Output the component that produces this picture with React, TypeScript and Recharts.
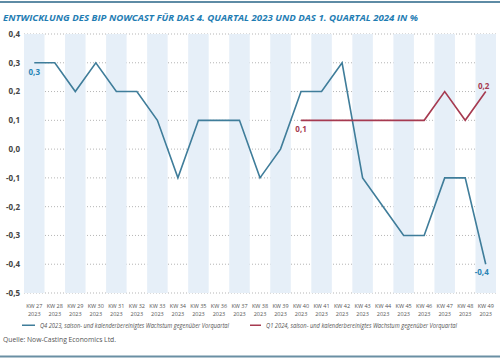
import React from 'react';
import {
  LineChart, Line, XAxis, YAxis, CartesianGrid, ReferenceArea
} from 'recharts';

const categories = [
  'KW 27', 'KW 28', 'KW 29', 'KW 30', 'KW 31', 'KW 32', 'KW 33', 'KW 34', 'KW 35', 'KW 36', 'KW 37', 'KW 38',
  'KW 39', 'KW 40', 'KW 41', 'KW 42', 'KW 43', 'KW 44', 'KW 45', 'KW 46', 'KW 47', 'KW 48', 'KW 49',
];
const years = [
  '2023', '2023', '2023', '2023', '2023', '2023', '2023', '2023', '2023', '2023', '2023', '2023',
  '2023', '2023', '2023', '2023', '2023', '2023', '2023', '2023', '2023', '2023', '2023',
];
const q4Values = [
  0.3, 0.3, 0.2, 0.3, 0.2, 0.2, 0.1, -0.1, 0.1, 0.1, 0.1, -0.1,
  0.0, 0.2, 0.2, 0.3, -0.1, -0.2, -0.3, -0.3, -0.1, -0.1, -0.4,
];
const q1Values = [
  null, null, null, null, null, null, null, null, null, null, null, null,
  null, 0.1, 0.1, 0.1, 0.1, 0.1, 0.1, 0.1, 0.2, 0.1, 0.2,
];
const shadedWeeks = [
  'KW 27', 'KW 29', 'KW 31', 'KW 33', 'KW 35', 'KW 37', 'KW 39', 'KW 41', 'KW 43', 'KW 45', 'KW 47', 'KW 49',
];
const yTicks = [0.4, 0.3, 0.2, 0.1, 0, -0.1, -0.2, -0.3, -0.4, -0.5];

// which points get a value label, and where
const q4Labels = [{ index: 0, dx: 0, dy: 12 }, { index: 22, dx: -4, dy: 11 }];
const q1Labels = [{ index: 13, dx: 0, dy: 12 }, { index: 22, dx: -2, dy: -3 }];

const data = categories.map((kw, i) => ({ kw, year: years[i], q4: q4Values[i], q1: q1Values[i] }));

const BLUE = '#3f7d9a';
const BLUE_TEXT = '#2a85b5';
const RED = '#a63a50';
const FONT = '"Open Sans", "Noto Sans", sans-serif';

const fmt = (v: number) => v.toFixed(1).replace('.', ',');

const makeLabel = (spots: { index: number; dx: number; dy: number }[], color: string) =>
  (props: any) => {
    const spot = spots.find((s) => s.index === props.index);
    if (!spot || props.value == null) return null;
    return (
      <text key={props.index} x={props.x + spot.dx} y={props.y + spot.dy} textAnchor="middle"
        fontSize={8} fontWeight="bold" fill={color} fontFamily={FONT}>
        {fmt(props.value)}
      </text>
    );
  };

const WeekTick = (props: any) => {
  const { x, y, payload, index } = props;
  return (
    <g>
      <text x={x} y={y + 12.5} textAnchor="middle" fontSize={5.5} fill="#555" fontFamily={FONT}>{payload.value}</text>
      <text x={x} y={y + 21} textAnchor="middle" fontSize={5.5} fill="#555" fontFamily={FONT}>{years[index]}</text>
    </g>
  );
};

export default function App() {
  return (
    <div style={{ position: 'absolute', left: 0, top: 0, width: 500, height: 360, background: '#fff', overflow: 'hidden' }}>
      <svg width={500} height={360} style={{ position: 'absolute', left: 0, top: 0 }}>
        <rect x={0} y={1} width={500} height={2} fill="#5e8ba5" />
        <text x={3} y={20.5} fontSize={9.5} fontWeight="bold" fontStyle="italic" fill="#1f7db3"
          fontFamily={FONT} textLength={415} lengthAdjust="spacingAndGlyphs">
          ENTWICKLUNG DES BIP NOWCAST FÜR DAS 4. QUARTAL 2023 UND DAS 1. QUARTAL 2024 IN %
        </text>
        <rect x={22} y={324.5} width={13} height={1.5} fill={BLUE} />
        <text x={40} y={327.5} fontSize={6.2} fontStyle="italic" fill="#555" fontFamily={FONT}
          textLength={189} lengthAdjust="spacingAndGlyphs">
          Q4 2023, saison- und kalenderbereinigtes Wachstum gegenüber Vorquartal
        </text>
        <rect x={250} y={324.5} width={11} height={1.5} fill={RED} />
        <text x={266} y={327.5} fontSize={6.2} fontStyle="italic" fill="#555" fontFamily={FONT}
          textLength={191} lengthAdjust="spacingAndGlyphs">
          Q1 2024, saison- und kalenderbereinigtes Wachstum gegenüber Vorquartal
        </text>
        <text x={3} y={341.5} fontSize={6.8} fill="#555" fontFamily={FONT}
          textLength={113} lengthAdjust="spacingAndGlyphs">
          Quelle: Now-Casting Economics Ltd.
        </text>
        <rect x={0} y={355.5} width={500} height={2} fill="#6a8fa3" />
      </svg>
      <div style={{ position: 'absolute', left: 0, top: 0 }}>
        <LineChart width={500} height={320} data={data} margin={{ top: 34, right: 4, left: 0, bottom: 3 }}>
          {shadedWeeks.map((w) => (
            <ReferenceArea key={w} x1={w} x2={w} y1={-0.5} y2={0.4} fill="#e6eff8" fillOpacity={1} stroke="none" ifOverflow="visible" />
          ))}
          <CartesianGrid vertical={false} stroke="#b5b5b5" strokeDasharray="1 2" />
          <XAxis dataKey="kw" scale="band" interval={0} axisLine={false} tickLine={false} tickSize={0}
            height={24} tick={<WeekTick />} />
          <YAxis domain={[-0.5, 0.4]} ticks={yTicks} width={24} axisLine={false} tickLine={false}
            tickSize={0} tickMargin={4} tickFormatter={fmt} interval={0}
            tick={{ fontSize: 8, fontWeight: 'bold', fill: '#444', fontFamily: FONT }} />
          <Line type="linear" dataKey="q4" stroke={BLUE} strokeWidth={1.6} dot={false}
            isAnimationActive={false} label={makeLabel(q4Labels, BLUE_TEXT)} />
          <Line type="linear" dataKey="q1" stroke={RED} strokeWidth={1.6} dot={false}
            isAnimationActive={false} label={makeLabel(q1Labels, RED)} />
        </LineChart>
      </div>
    </div>
  );
}
